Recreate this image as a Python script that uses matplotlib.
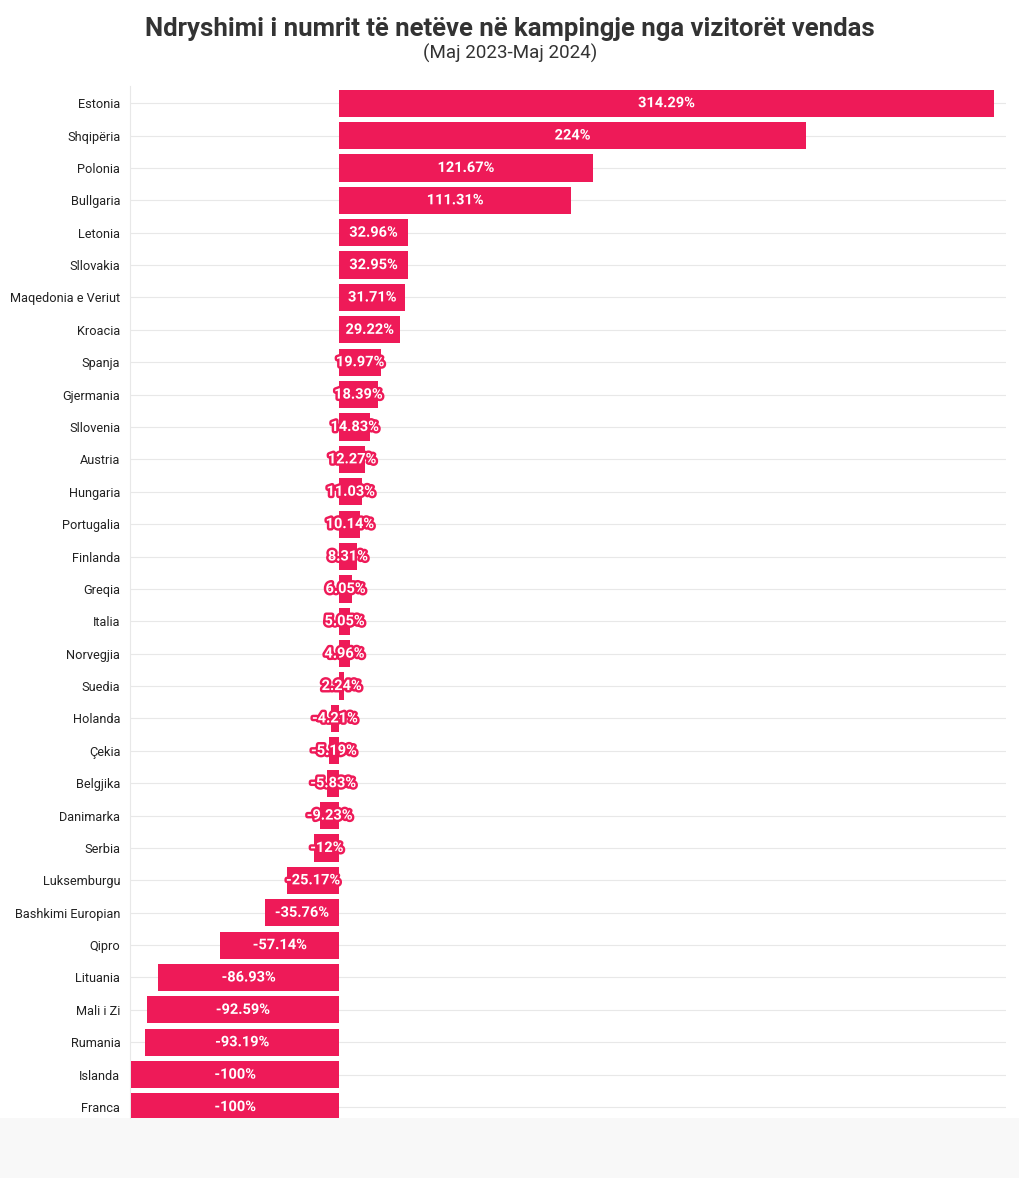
import matplotlib
matplotlib.use("Agg")
import matplotlib.pyplot as plt
import matplotlib.patheffects as pe
from matplotlib.patches import Rectangle

countries = ["Estonia", "Shqipëria", "Polonia", "Bullgaria", "Letonia", "Sllovakia",
             "Maqedonia e Veriut", "Kroacia", "Spanja", "Gjermania", "Sllovenia", "Austria",
             "Hungaria", "Portugalia", "Finlanda", "Greqia", "Italia", "Norvegjia", "Suedia",
             "Holanda", "Çekia", "Belgjika", "Danimarka", "Serbia", "Luksemburgu",
             "Bashkimi Europian", "Qipro", "Lituania", "Mali i Zi", "Rumania", "Islanda", "Franca"]
values = [314.29, 224, 121.67, 111.31, 32.96, 32.95, 31.71, 29.22, 19.97, 18.39, 14.83, 12.27,
          11.03, 10.14, 8.31, 6.05, 5.05, 4.96, 2.24, -4.21, -5.19, -5.83, -9.23, -12, -25.17,
          -35.76, -57.14, -86.93, -92.59, -93.19, -100, -100]
labels = ["314.29%", "224%", "121.67%", "111.31%", "32.96%", "32.95%", "31.71%", "29.22%",
          "19.97%", "18.39%", "14.83%", "12.27%", "11.03%", "10.14%", "8.31%", "6.05%", "5.05%",
          "4.96%", "2.24%", "-4.21%", "-5.19%", "-5.83%", "-9.23%", "-12%", "-25.17%", "-35.76%",
          "-57.14%", "-86.93%", "-92.59%", "-93.19%", "-100%", "-100%"]

title = "Ndryshimi i numrit të netëve në kampingje nga vizitorët vendas"
subtitle = "(Maj 2023-Maj 2024)"

bar_color = "#EE1A58"
font = ["Roboto", "DejaVu Sans"]
plt.rcParams["font.family"] = font

fig = plt.figure(figsize=(10.2, 11.78), dpi=100)
fig.patch.set_facecolor("white")
fig.add_artist(Rectangle((0, 0), 1, 0.0509, transform=fig.transFigure,
                         facecolor="#f8f8f8", edgecolor="none", zorder=0))

ax = fig.add_axes([0.1275, 0.0509, 0.8585, 0.8761])
ypos = list(range(len(countries)))
ax.barh(ypos, values, height=0.84, color=bar_color, zorder=3)
ax.set_xlim(-100.5, 320)
ax.set_ylim(len(countries) - 1 + 0.34, -0.53)
ax.set_yticks(ypos)
ax.set_yticklabels(countries, fontsize=9.2, color="#222222")
ax.tick_params(axis="y", length=0, pad=7)
ax.set_xticks([])
ax.grid(axis="y", color="#e8e8e8", linewidth=0.8, zorder=0)
for s in ["top", "right", "bottom"]:
    ax.spines[s].set_visible(False)
ax.spines["left"].set_color("#e8e8e8")
ax.spines["left"].set_linewidth(0.8)

for y, v, lab in zip(ypos, values, labels):
    ax.text(v / 2, y, lab, ha="center", va="center", fontsize=10.5, color="white",
            fontweight="semibold", zorder=5,
            path_effects=[pe.withStroke(linewidth=3.5, foreground=bar_color)])

fig.text(0.5, 0.975, title, ha="center", va="center", fontsize=18.5, fontweight="bold",
         color="#333333")
fig.text(0.5, 0.955, subtitle, ha="center", va="center", fontsize=13.5, color="#333333")

fig.savefig("out.png", dpi=100)
